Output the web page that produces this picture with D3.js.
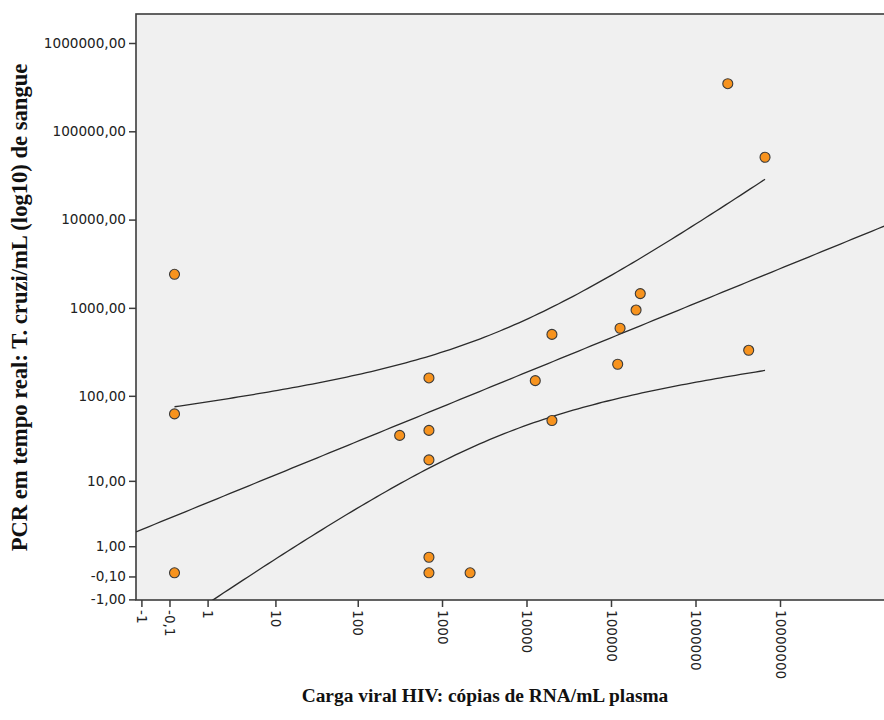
<!DOCTYPE html>
<html>
<head>
<meta charset="utf-8">
<script src="https://cdn.jsdelivr.net/npm/d3@7"></script>
<style>
  html, body { margin: 0; padding: 0; background: #ffffff; }
  svg { display: block; }
  .tick text { font-family: "DejaVu Sans", Verdana, sans-serif; font-size: 13.6px; fill: #222; }
  .axis-title { font-family: "Liberation Serif", "Times New Roman", serif; font-weight: bold; fill: #111; }
</style>
</head>
<body>
<svg id="chart" width="884" height="720"></svg>
<script>
// HIV viral load (RNA copies/mL plasma) per patient
const viralLoad = [0, 0, 0, 315, 700, 700, 700, 700, 700, 2150,
                   12700, 20000, 20000, 120000, 128000, 198000, 222000, 2410000, 4260000, 6650000];
// Real-time PCR: T. cruzi parasites per mL of blood, same patients
const parasiteLoad = [2400, 62, 0, 35, 160, 40, 18, 0.5, 0, 0,
                      149, 500, 52, 229, 587, 945, 1450, 346000, 330, 50800];

const xTickValues = [-1, -0.1, 1, 10, 100, 1000, 10000, 100000, 1000000, 10000000];
const xTickLabels = ["-1", "-0,1", "1", "10", "100", "1000", "10000", "100000", "1000000", "10000000"];
const yTickValues = [1000000, 100000, 10000, 1000, 100, 10, 1, -0.1, -1];
const yTickLabels = ["1000000,00", "100000,00", "10000,00", "1000,00", "100,00", "10,00", "1,00", "-0,10", "-1,00"];

const xTitle = "Carga viral HIV: cópias de RNA/mL plasma";
const yTitle = "PCR em tempo real: T. cruzi/mL (log10) de sangue";

// Two-sided 95% Student t quantile for n - 2 = 18 degrees of freedom
const T_CRIT = 2.1009;

const X_CONST = 0.683, Y_CONST = 1;

const svg = d3.select("#chart");
const plot = { left: 136, top: 14, right: 884, bottom: 600 };

const x = d3.scaleSymlog().constant(X_CONST).domain([0, 1e7]).range([174.5, 780]);
const y = d3.scaleSymlog().constant(Y_CONST).domain([0, 1e6]).range([572.8, 43]);

// Same transform d3.scaleSymlog applies internally, used for the regression
const fwd = c => v => Math.sign(v) * Math.log1p(Math.abs(v) / c);
const inv = c => t => Math.sign(t) * Math.expm1(Math.abs(t)) * c;
const tx = fwd(X_CONST), ty = fwd(Y_CONST), itx = inv(X_CONST), ity = inv(Y_CONST);

// Plot background and frame
svg.append("defs").append("clipPath").attr("id", "plot-clip")
  .append("rect")
  .attr("x", plot.left).attr("y", plot.top)
  .attr("width", plot.right - plot.left + 10).attr("height", plot.bottom - plot.top);

svg.append("rect")
  .attr("x", plot.left).attr("y", plot.top)
  .attr("width", plot.right - plot.left + 10).attr("height", plot.bottom - plot.top)
  .attr("fill", "#f0f0f0")
  .attr("stroke", "#3c3c3c").attr("stroke-width", 1.6);

// Linear fit with 95% confidence band for the mean, on the transformed scales
const X = viralLoad.map(tx), Y = parasiteLoad.map(ty);
const n = X.length;
const mx = d3.mean(X), my = d3.mean(Y);
const sxx = d3.sum(X, v => (v - mx) ** 2);
const sxy = d3.sum(X.map((v, i) => (v - mx) * (Y[i] - my)));
const slope = sxy / sxx;
const intercept = my - slope * mx;
const sse = d3.sum(X.map((v, i) => (Y[i] - (intercept + slope * v)) ** 2));
const se = Math.sqrt(sse / (n - 2));

const fitAt = t => intercept + slope * t;
const halfAt = t => T_CRIT * se * Math.sqrt(1 / n + (t - mx) ** 2 / sxx);

const steps = 120;
const bandT = d3.range(steps + 1).map(i => d3.min(X) + (d3.max(X) - d3.min(X)) * i / steps);
const fitT = d3.range(steps + 1).map(i => {
  const t0 = tx(x.invert(plot.left)), t1 = tx(x.invert(plot.right));
  return t0 + (t1 - t0) * i / steps;
});

const line = d3.line().x(d => x(itx(d[0]))).y(d => y(ity(d[1]))).curve(d3.curveLinear);

const curves = svg.append("g").attr("clip-path", "url(#plot-clip)")
  .attr("fill", "none").attr("stroke", "#2b2b2b").attr("stroke-width", 1.3);

curves.append("path").attr("d", line(fitT.map(t => [t, fitAt(t)])));
curves.append("path").attr("d", line(bandT.map(t => [t, fitAt(t) + halfAt(t)])));
curves.append("path").attr("d", line(bandT.map(t => [t, fitAt(t) - halfAt(t)])));

// Points
svg.append("g").attr("clip-path", "url(#plot-clip)")
  .selectAll("circle")
  .data(viralLoad.map((v, i) => [v, parasiteLoad[i]]))
  .join("circle")
  .attr("cx", d => x(d[0]))
  .attr("cy", d => y(d[1]))
  .attr("r", 5)
  .attr("fill", "#f7931e")
  .attr("stroke", "#3a3a3a")
  .attr("stroke-width", 1.1);

// Axes
const yAxis = d3.axisLeft(y).tickValues(yTickValues)
  .tickFormat((d, i) => yTickLabels[i]).tickSize(7).tickPadding(3).tickSizeOuter(0);
const gy = svg.append("g").attr("transform", `translate(${plot.left},0)`).call(yAxis);
gy.select(".domain").remove();
gy.selectAll(".tick line").attr("stroke", "#3c3c3c").attr("stroke-width", 1.5);

const xAxis = d3.axisBottom(x).tickValues(xTickValues)
  .tickFormat((d, i) => xTickLabels[i]).tickSize(7).tickSizeOuter(0);
const gx = svg.append("g").attr("transform", `translate(0,${plot.bottom})`).call(xAxis);
gx.select(".domain").remove();
gx.selectAll(".tick line").attr("stroke", "#3c3c3c").attr("stroke-width", 1.5);
gx.selectAll(".tick text")
  .attr("transform", "rotate(90)")
  .attr("text-anchor", "start")
  .attr("x", 10).attr("y", 0).attr("dy", "0.35em");

// Titles
svg.append("text").attr("class", "axis-title")
  .attr("x", 485).attr("y", 702)
  .attr("text-anchor", "middle")
  .style("font-size", "19.4px")
  .text(xTitle);

svg.append("text").attr("class", "axis-title")
  .attr("transform", "translate(27,307.5) rotate(-90)")
  .attr("text-anchor", "middle")
  .style("font-size", "22.6px")
  .text(yTitle);
</script>
</body>
</html>
